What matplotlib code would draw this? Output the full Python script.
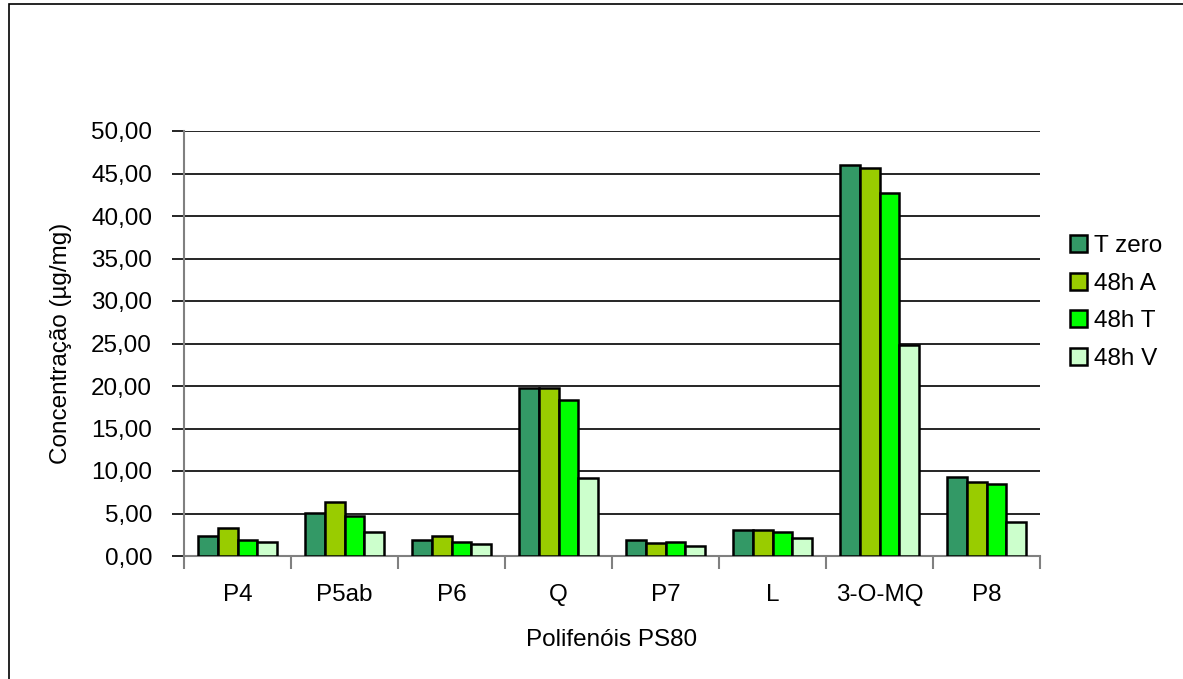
import matplotlib
matplotlib.use("Agg")
import matplotlib.pyplot as plt
import numpy as np
from matplotlib.patches import Rectangle
from matplotlib.ticker import MultipleLocator, FuncFormatter

categories = ["P4", "P5ab", "P6", "Q", "P7", "L", "3-O-MQ", "P8"]
series_names = ["T zero", "48h A", "48h T", "48h V"]
t_zero = [2.4, 5.1, 1.9, 19.75, 1.9, 3.05, 46.0, 9.25]
h48_a = [3.3, 6.35, 2.35, 19.75, 1.57, 3.05, 45.7, 8.7]
h48_t = [1.9, 4.75, 1.65, 18.3, 1.6, 2.8, 42.7, 8.5]
h48_v = [1.65, 2.86, 1.45, 9.2, 1.2, 2.15, 24.8, 4.0]
colors = ["#339966", "#99CC00", "#00FF00", "#CCFFCC"]

plt.rcParams['font.family'] = ['Liberation Sans', 'DejaVu Sans']

W, H = 1183, 679
FS = 17.5
fig = plt.figure(figsize=(W / 100, H / 100), dpi=100)
fig.patch.set_facecolor("white")
fig.add_artist(Rectangle((9 / W, -0.05), 1.2, 1 - 4 / H + 0.05, transform=fig.transFigure,
                         fill=False, edgecolor="black", linewidth=1.2))

ax = fig.add_axes([184 / W, 1 - 556 / H, (1040 - 184) / W, (556 - 131) / H])
data = [t_zero, h48_a, h48_t, h48_v]
x = np.arange(len(categories))
group = 0.735
bw = group / 4
bars = []
for i, (vals, c, n) in enumerate(zip(data, colors, series_names)):
    b = ax.bar(x - group / 2 + bw * (i + 0.5), vals, width=bw, color=c, edgecolor="black",
               linewidth=1.8, label=n, zorder=3)
    bars.append(b)

ax.set_xlim(-0.5, len(categories) - 0.5)
ax.set_ylim(0, 50)
ax.yaxis.set_major_locator(MultipleLocator(5))
ax.yaxis.set_major_formatter(FuncFormatter(lambda v, p: f"{v:.2f}".replace(".", ",")))
ax.grid(axis="y", color="black", linewidth=1.2, zorder=0)
ax.set_axisbelow(True)
for s in ["top", "right"]:
    ax.spines[s].set_visible(False)
ax.spines["left"].set_color("#808080")
ax.spines["left"].set_linewidth(1.5)
ax.spines["bottom"].set_color("#808080")
ax.spines["bottom"].set_linewidth(1.5)

ax.set_xticks(x)
ax.set_xticklabels(categories, fontsize=FS)
ax.tick_params(axis="x", length=0, pad=20)
ax.set_xticks(np.arange(len(categories) + 1) - 0.5, minor=True)
ax.tick_params(axis="x", which="minor", length=9, width=1.5, color="#808080", direction="out")
ax.tick_params(axis="y", length=9, width=1.2, color="black", labelsize=FS, pad=14)

ax.set_xlabel("Polifenóis PS80", fontsize=FS, labelpad=17)
ax.set_ylabel("Concentração (µg/mg)", fontsize=FS, labelpad=14)

leg = fig.legend(handles=bars, labels=series_names, loc="upper left",
                 bbox_to_anchor=(1060 / W, 1 - 225 / H), frameon=False, fontsize=FS,
                 handlelength=0.7, handleheight=0.7, handletextpad=0.3, labelspacing=0.65,
                 borderaxespad=0)

fig.savefig("out.png", dpi=100, facecolor="white")
